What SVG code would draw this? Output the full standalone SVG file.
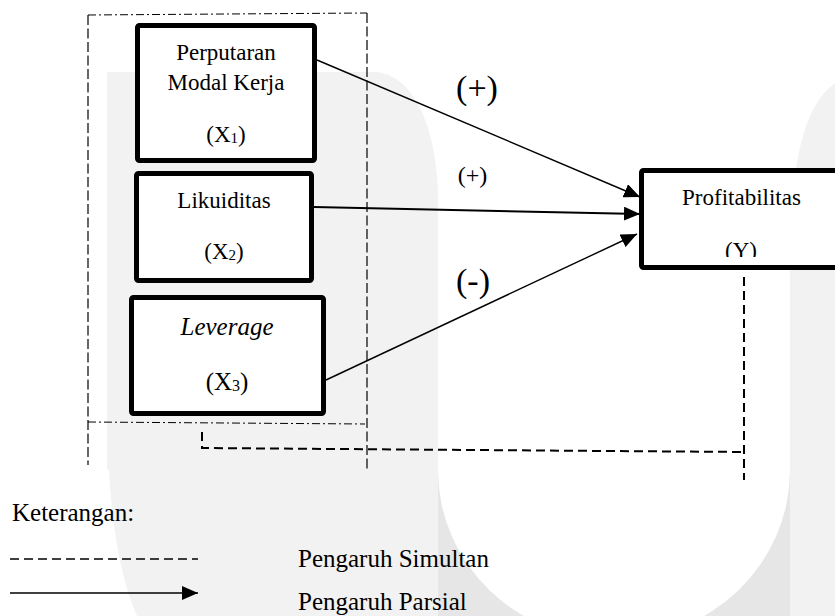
<svg xmlns="http://www.w3.org/2000/svg" width="835" height="616" viewBox="0 0 835 616">
<defs>
<style>
.box{fill:#fff;stroke:#000;stroke-width:5}
.t23{font-size:23px;text-anchor:middle}
.t25{font-size:25px;text-anchor:middle}
.sub{font-size:15px}
.arrow{fill:none;stroke:#000;stroke-width:1.4;marker-end:url(#ah)}
.dashdot{fill:none;stroke:#000;stroke-width:1;stroke-dasharray:8 3 2 3}
.dash1{fill:none;stroke:#000;stroke-width:1.2;stroke-dasharray:10 3.5}
.sim{fill:none;stroke:#000;stroke-width:2;stroke-dasharray:9 5}
.leg{font-size:25px}
</style>
<marker id="ah" viewBox="0 0 16 14" refX="16" refY="7" markerWidth="16" markerHeight="14" markerUnits="userSpaceOnUse" orient="auto">
<path d="M0,0 L16,7 L0,14 Z" fill="#000"/>
</marker>
<clipPath id="yclip"><rect x="640" y="170" width="200" height="87"/></clipPath>
</defs>
<rect width="835" height="616" fill="#fff"/>
<g id="watermark">
<path d="M107,72 H372 C412,72 438,125 438,205 V616 H137 Q112,560 108,450 Z" fill="#f2f2f2"/>
<path d="M790,616 V262 C790,150 808,98 840,80 V616 Z" fill="#f2f2f2"/>
<rect x="438" y="470" width="352" height="146" fill="#e6e6e6"/>
<ellipse cx="614" cy="470" rx="176" ry="170" fill="#fff"/>
<rect x="438" y="0" width="352" height="470" fill="#fff"/>
<path d="M107,72 H372 C412,72 438,125 438,205 V470 H107 Z" fill="#f2f2f2"/>
</g>
<g id="frame">
<line class="dashdot" x1="88" y1="15" x2="367" y2="13"/>
<line class="dash1" x1="88" y1="15" x2="88" y2="465"/>
<line class="dash1" x1="367" y1="13" x2="367" y2="471"/>
<line class="dashdot" x1="88" y1="422" x2="365" y2="424"/>
</g>
<g id="connectors">
<line class="arrow" x1="317" y1="60" x2="640" y2="197"/>
<line class="arrow" style="stroke-width:2" x1="314" y1="207" x2="640" y2="214"/>
<line class="arrow" x1="326" y1="380" x2="637" y2="234"/>
<path class="sim" d="M202,432 V448 L744,452"/>
<line class="sim" x1="744" y1="277" x2="744" y2="480"/>
</g>
<g font-family="'Liberation Serif', 'Times New Roman', Times, 'DejaVu Serif', serif" fill="#000">
<g id="x1">
<rect class="box" x="137.5" y="25.5" width="177" height="135" rx="2"/>
<text class="t23" x="226" y="60">Perputaran</text>
<text class="t23" x="226" y="90">Modal Kerja</text>
<text class="t23" x="226" y="142">(X<tspan class="sub" dy="1">1</tspan><tspan dy="-1">)</tspan></text>
</g>
<g id="x2">
<rect class="box" x="136.5" y="173.5" width="175" height="107" rx="2"/>
<text class="t23" x="224" y="208">Likuiditas</text>
<text class="t23" x="224" y="259">(X<tspan class="sub" dy="1">2</tspan><tspan dy="-1">)</tspan></text>
</g>
<g id="x3">
<rect class="box" x="131.5" y="297.5" width="192" height="116" rx="2"/>
<text class="t25" x="227" y="335" font-style="italic">Leverage</text>
<text class="t25" x="227" y="390">(X<tspan class="sub" style="font-size:16px" dy="1">3</tspan><tspan dy="-1">)</tspan></text>
</g>
<g id="y">
<rect class="box" x="641.5" y="170.5" width="200" height="97" rx="2"/>
<text class="t23" x="741.5" y="205">Profitabilitas</text>
<text class="t23" x="741" y="258" clip-path="url(#yclip)">(Y)</text>
</g>
<g id="labels">
<text x="477" y="99" style="font-size:34px;text-anchor:middle">(+)</text>
<text x="472.5" y="183" style="font-size:24px;text-anchor:middle">(+)</text>
<text x="473" y="292" style="font-size:34px;text-anchor:middle">(-)</text>
</g>
<g id="legend">
<text class="leg" x="12" y="521">Keterangan:</text>
<line class="sim" style="stroke-width:1.6" x1="10" y1="559" x2="198" y2="559"/>
<line class="arrow" style="stroke-width:1.6" x1="10" y1="593" x2="198" y2="593"/>
<text class="leg" x="298" y="567">Pengaruh Simultan</text>
<text class="leg" x="298" y="610">Pengaruh Parsial</text>
</g>
</g>
</svg>
